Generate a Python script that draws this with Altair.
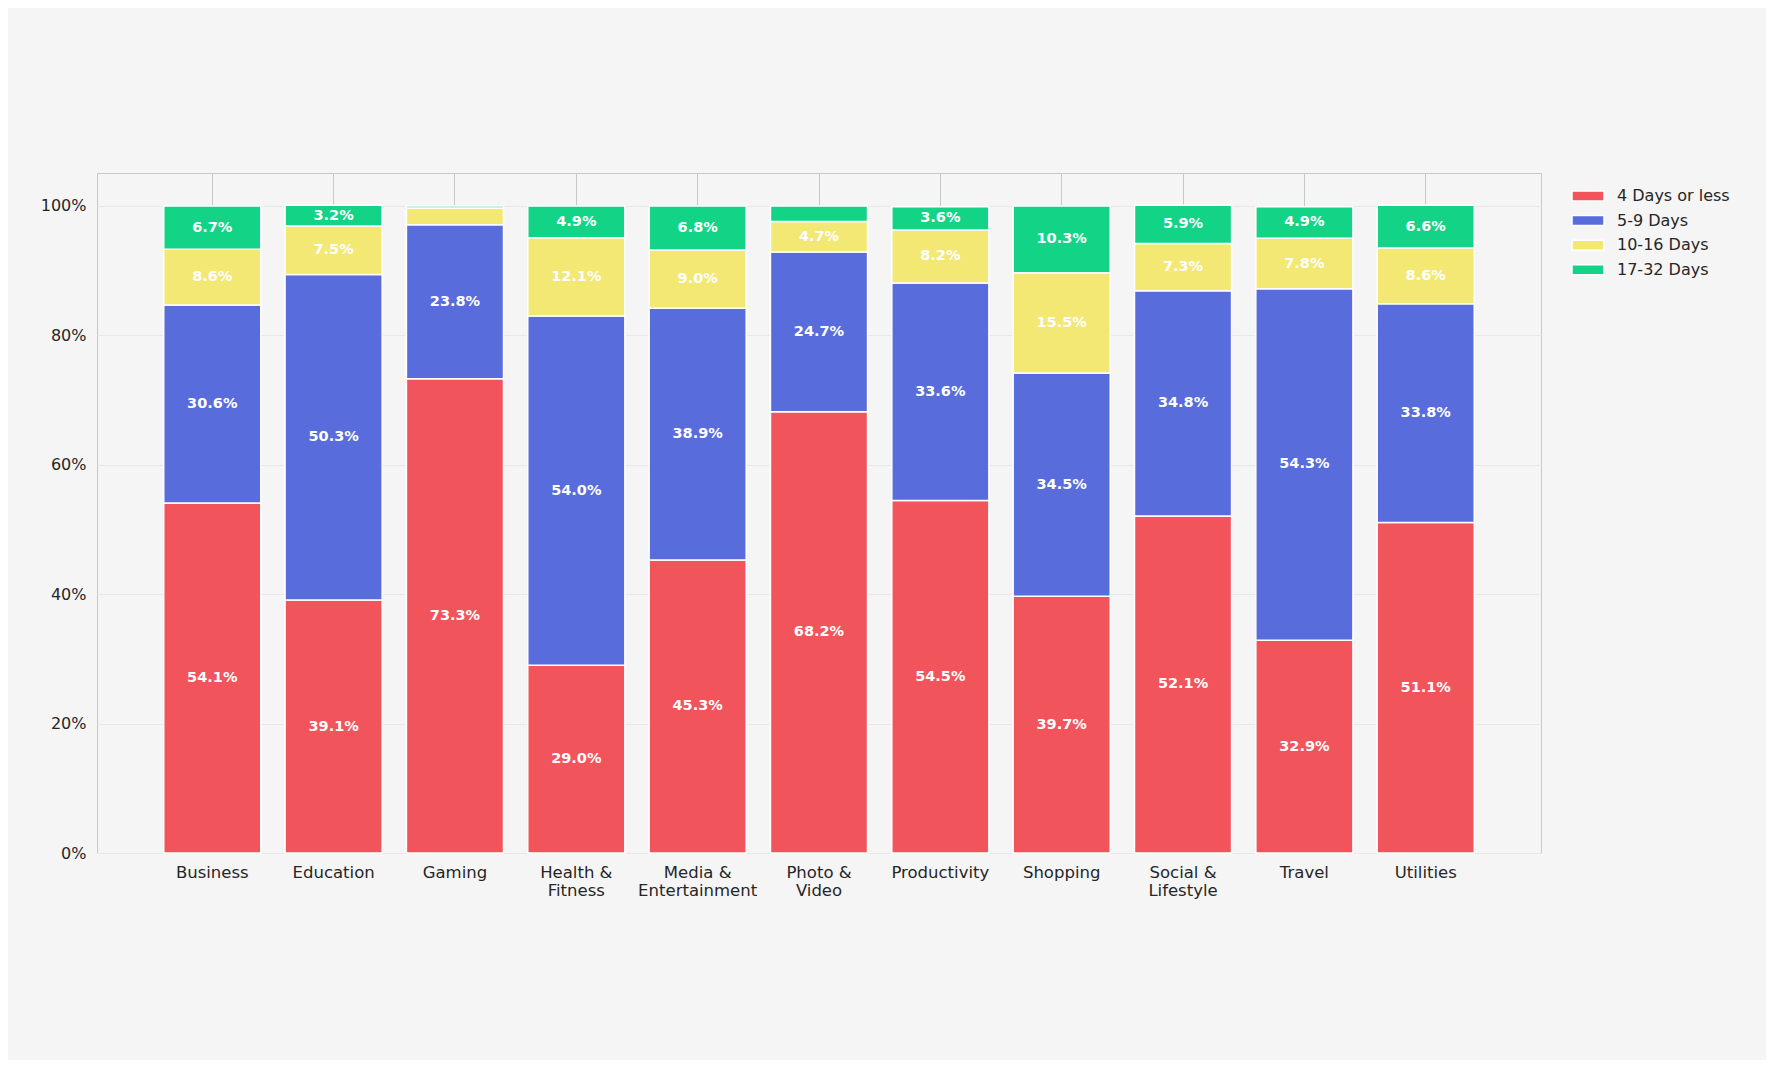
import altair as alt
import pandas as pd

categories = ["Business", "Education", "Gaming", "Health & Fitness", "Media & Entertainment",
              "Photo & Video", "Productivity", "Shopping", "Social & Lifestyle", "Travel", "Utilities"]
series = ["4 Days or less", "5-9 Days", "10-16 Days", "17-32 Days"]
days_4_or_less = [54.1, 39.1, 73.3, 29.0, 45.3, 68.2, 54.5, 39.7, 52.1, 32.9, 51.1]
days_5_9 = [30.6, 50.3, 23.8, 54.0, 38.9, 24.7, 33.6, 34.5, 34.8, 54.3, 33.8]
days_10_16 = [8.6, 7.5, 2.6, 12.1, 9.0, 4.7, 8.2, 15.5, 7.3, 7.8, 8.6]
days_17_32 = [6.7, 3.2, 0.3, 4.9, 6.8, 2.4, 3.6, 10.3, 5.9, 4.9, 6.6]
colors = ["#F2545B", "#586CDB", "#F3E874", "#13D486"]
y_ticks = [0, 0.2, 0.4, 0.6, 0.8, 1.0]

rows = []
for si, (name, vals) in enumerate(zip(series, [days_4_or_less, days_5_9, days_10_16, days_17_32])):
    for c, v in zip(categories, vals):
        rows.append({"category": c, "series": name, "order": si, "value": v / 100.0})
df = pd.DataFrame(rows)

FONT = "DejaVu Sans"

base = alt.Chart(df).transform_stack(
    stack="value", as_=["y0", "y1"], groupby=["category"],
    sort=[alt.SortField("order", order="ascending")]
)

x_enc = alt.X(
    "category:N", sort=categories, title=None,
    scale=alt.Scale(paddingInner=0.2, paddingOuter=0.55),
    axis=alt.Axis(
        labelAngle=0, ticks=False, domain=False, grid=True, gridColor="#c8c8c8",
        labelFontSize=16.5, labelFont=FONT, labelColor="#262626", labelPadding=11,
        labelLineHeight=18.5,
        labelExpr="indexof(datum.label, ' & ') > 0 ? [slice(datum.label, 0, indexof(datum.label, ' & ') + 2), slice(datum.label, indexof(datum.label, ' & ') + 3)] : datum.label",
    ),
)

bars = base.mark_bar(stroke="white", strokeWidth=1.5).encode(
    x=x_enc,
    y=alt.Y(
        "y0:Q", title=None,
        scale=alt.Scale(domain=[0, 1.051], nice=False),
        axis=alt.Axis(
            values=y_ticks, format=".0%", ticks=False, domain=False, grid=True,
            gridColor="#e8e8e8", labelFontSize=16, labelFont=FONT, labelColor="#262626",
            labelPadding=11,
        ),
    ),
    y2="y1:Q",
    color=alt.Color(
        "series:N",
        scale=alt.Scale(domain=series, range=colors),
        title=None,
        legend=alt.Legend(
            orient="none", legendX=1480, legendY=12, padding=0,
            symbolType="M-1.6,-0.5H1.6V0.5H-1.6Z", symbolSize=400,
            symbolStrokeColor="white", symbolStrokeWidth=1.5, symbolOpacity=1,
            labelFontSize=16, labelFont=FONT, labelColor="#262626",
            labelOffset=18, rowPadding=5.6,
        ),
    ),
)

labels = base.transform_calculate(
    mid="(datum.y0 + datum.y1) / 2"
).transform_filter(
    "datum.value >= 0.03"
).mark_text(
    color="white", fontWeight="bold", fontSize=14.5, font=FONT, baseline="middle", align="center"
).encode(
    x=alt.X("category:N", sort=categories),
    y=alt.Y("mid:Q"),
    text=alt.Text("value:Q", format=".1%"),
)

chart = alt.layer(bars, labels).properties(
    width=1444, height=680,
    autosize=alt.AutoSizeParams(type="none"),
    padding={"left": 89, "top": 165, "right": 225, "bottom": 207},
    background="#F5F5F5",
).configure_view(
    stroke="#c8c8c8", strokeWidth=1
)

chart.save("out.html", embed_options={"renderer": "svg", "actions": False})
